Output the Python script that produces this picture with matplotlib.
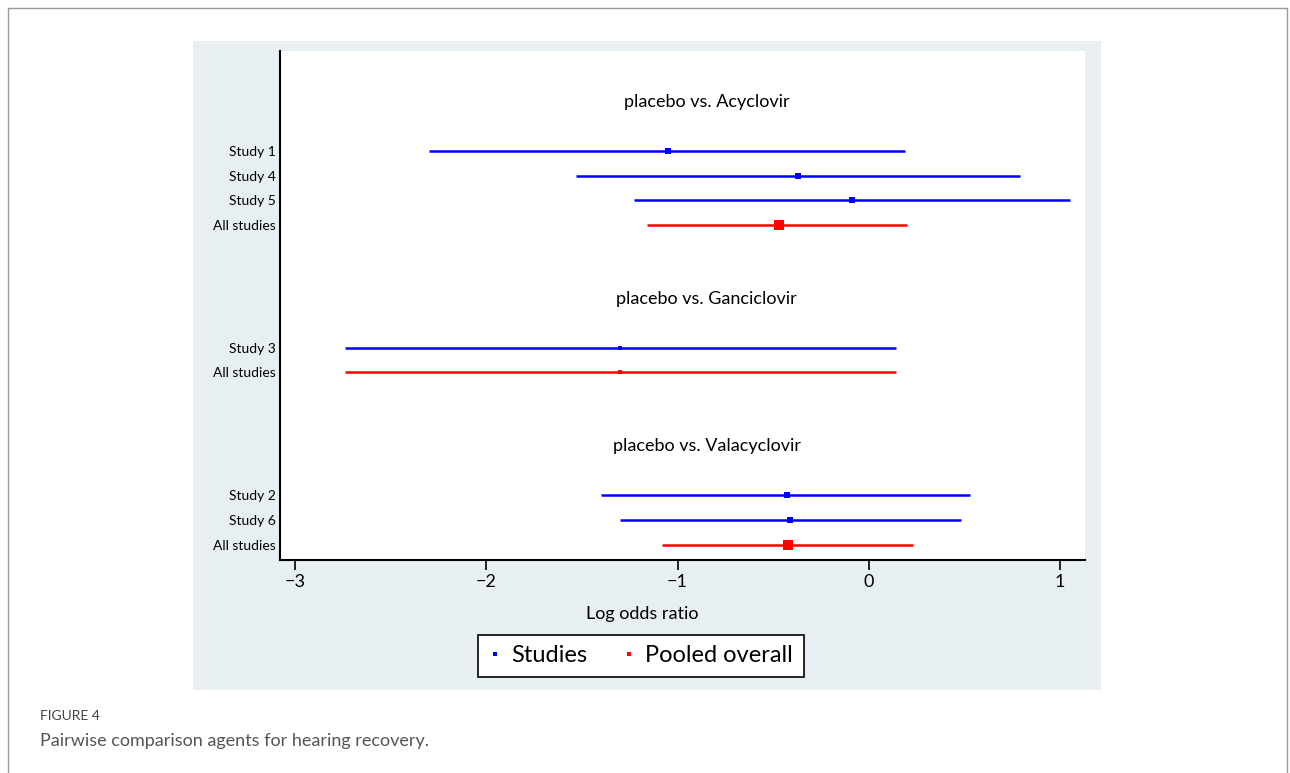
import numpy as np
import matplotlib.pyplot as plt
from matplotlib.lines import Line2D
from matplotlib.patches import Rectangle

plt.rcParams['font.family'] = ['Lato', 'DejaVu Sans']

# comparison groups and their rows
groups = ['placebo vs. Acyclovir', 'placebo vs. Ganciclovir', 'placebo vs. Valacyclovir']
group_rows = [-2, 6, 12]

labels = ['Study 1', 'Study 4', 'Study 5', 'All studies',
          'Study 3', 'All studies',
          'Study 2', 'Study 6', 'All studies']
rows = [0, 1, 2, 3, 8, 9, 14, 15, 16]
pooled = [False, False, False, True, False, True, False, False, True]

est = [-1.05, -0.37, -0.09, -0.47, -1.30, -1.30, -0.43, -0.41, -0.42]
lo = [-2.30, -1.53, -1.23, -1.16, -2.74, -2.74, -1.40, -1.30, -1.08]
hi = [0.19, 0.79, 1.05, 0.20, 0.14, 0.14, 0.53, 0.48, 0.23]
weight = [0.45, 0.45, 0.45, 1.0, 0.12, 0.12, 0.45, 0.45, 1.0]

W, H = 1290, 773
fig = plt.figure(figsize=(W / 100, H / 100), dpi=100)

# outer frame + grey graph region
fig.patches.append(Rectangle((8 / W, -0.01), 1279 / W, 765 / H + 0.01, transform=fig.transFigure,
                             fill=False, edgecolor='#9a9a9a', lw=1.0, zorder=-2))
fig.patches.append(Rectangle((193 / W, 83 / H), 908 / W, 649 / H, transform=fig.transFigure,
                             facecolor='#e8eff2', edgecolor='none', zorder=-1))

ax = fig.add_axes([280 / W, 213 / H, 805 / W, 509 / H])
ax.set_facecolor('white')

for i in range(len(labels)):
    c = 'red' if pooled[i] else 'blue'
    ax.plot([lo[i], hi[i]], [rows[i], rows[i]], color=c, lw=1.8, solid_capstyle='butt')
    ax.plot(est[i], rows[i], marker='s', color=c, ms=2.5 + 4 * weight[i], mew=0)

for g, r in zip(groups, group_rows):
    ax.text(0.53, r, g, transform=ax.get_yaxis_transform(), ha='center', va='center',
            fontsize=13)

ax.set_xlim(-3.078, 1.13)
ax.set_ylim(16.63, -4.07)
ax.set_xticks([-3, -2, -1, 0, 1])
ax.set_xticklabels(['\u22123', '\u22122', '\u22121', '0', '1'])
ax.set_yticks(rows)
ax.set_yticklabels(labels)
ax.tick_params(axis='x', length=7, width=1.2, labelsize=13, pad=3)
ax.tick_params(axis='y', length=0, labelsize=10, pad=3)
for s in ['top', 'right']:
    ax.spines[s].set_visible(False)
for s in ['left', 'bottom']:
    ax.spines[s].set_linewidth(1.5)

fig.text(642 / W, 1 - 614 / H, 'Log odds ratio', ha='center', va='center', fontsize=13)

handles = [Line2D([], [], ls='none', marker='s', ms=3, mew=0, color='blue'),
           Line2D([], [], ls='none', marker='s', ms=3, mew=0, color='red')]
leg = fig.legend(handles, ['Studies', 'Pooled overall'], loc='center',
                 bbox_to_anchor=(641 / W, 1 - 656 / H), ncol=2, fontsize=17,
                 frameon=True, fancybox=False, edgecolor='black', framealpha=1,
                 handlelength=0.5, handletextpad=0.45, columnspacing=1.5,
                 borderpad=0.45, borderaxespad=0)
leg.get_frame().set_linewidth(1.2)

fig.text(40 / W, 1 - 716 / H, 'FIGURE 4', fontsize=10, color='#444444', va='center')
fig.text(40 / W, 1 - 741 / H, 'Pairwise comparison agents for hearing recovery.',
         fontsize=13, color='#555555', va='center')

fig.savefig('out.png', dpi=100)
